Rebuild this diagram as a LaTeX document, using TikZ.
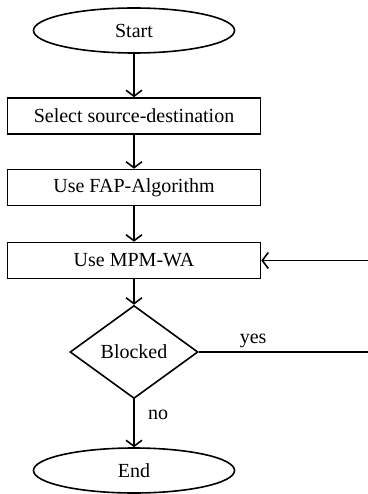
\documentclass[tikz,border=0pt]{standalone}
\usepackage{fontspec}
\setmainfont{Liberation Serif}
\usetikzlibrary{shapes.geometric,arrows.meta}

\begin{document}
\begin{tikzpicture}[x=1pt, y=-1pt,
		every node/.style={font=\fontsize{20}{24}\selectfont},
		terminal/.style={draw, ellipse, line width=1.6pt, minimum width=201pt, minimum height=45pt, inner sep=0pt},
		process/.style={draw, rectangle, line width=1.6pt, minimum width=253pt, minimum height=36pt, inner sep=0pt},
		decision/.style={draw, diamond, line width=1.6pt, minimum width=128pt, minimum height=93pt, inner sep=0pt},
		flow/.style={line width=1.6pt, -{Straight Barb[length=6pt, width=16pt, line width=1.6pt]}},
		label/.style={font=\fontsize{20}{24}\selectfont}]
		%%%%% START %%%%%
		
		\useasboundingbox (0, 0) rectangle (367, 494);
		
		\node[terminal] (start) at (134, 30.5) {Start};
		\node[process] (select) at (134, 116) {Select source-destination};
		\node[process] (fap) at (134, 187.5) {Use FAP-Algorithm};
		\node[process] (mpm) at (134, 260.5) {Use MPM-WA};
		\node[decision] (blocked) at (134, 352) {Blocked};
		\node[terminal] (end) at (134, 470.5) {End};
		
		\coordinate (loopback) at (400, 352);
		
		\draw[flow] (start) -- (select);
		\draw[flow] (select) -- (fap);
		\draw[flow] (fap) -- (mpm);
		\draw[flow] (mpm) -- (blocked);
		\draw[flow] (blocked) -- node[label, pos=0.32, right, xshift=10pt] {no} (end);
		
		\draw[flow] (blocked.east) -- node[label, pos=0.27, above] {yes} (loopback) |- (mpm.east);
		
		%%%%% END %%%%%
	\end{tikzpicture}
\end{document}
